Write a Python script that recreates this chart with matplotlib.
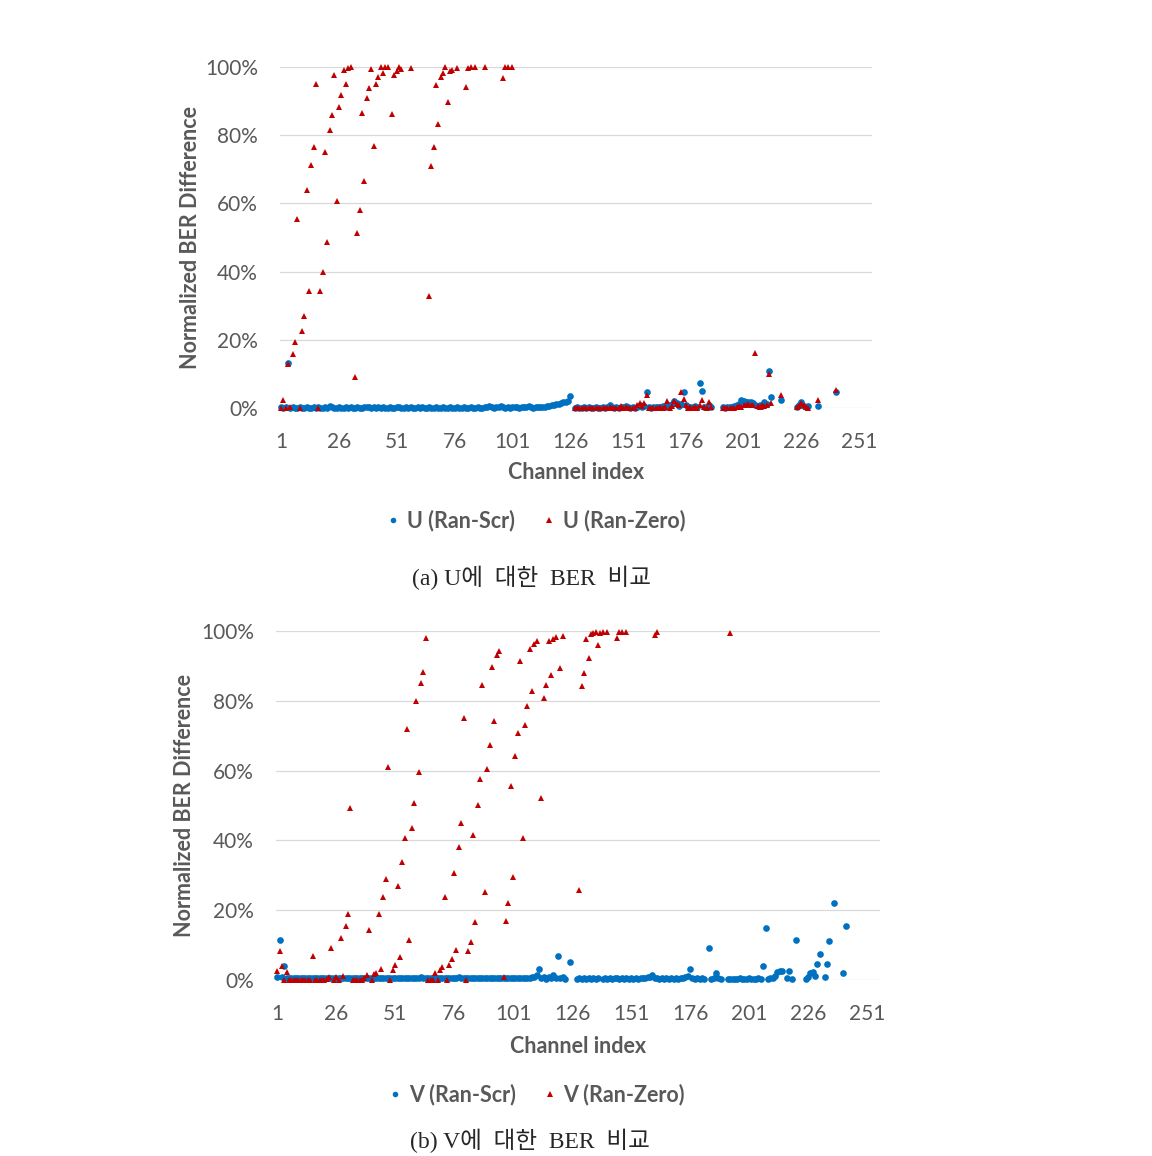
import numpy as np
import matplotlib
matplotlib.use('Agg')
import matplotlib.pyplot as plt
from matplotlib.lines import Line2D
from matplotlib.ticker import FuncFormatter

N = None
channels = list(range(1, 256))
x_ticks = [1, 26, 51, 76, 101, 126, 151, 176, 201, 226, 251]
y_ticks = [0, 20, 40, 60, 80, 100]

# ---- (a) U ----
u_scr = [
    0.2, 0.1, 0.2, 13.2, 0.1, 0.2, 0.1, 0.1, 0.2, 0.1, 0.1, 0.2, 0.1, 0.1, 0.2,
    0.1, 0.2, 0.1, 0.1, 0.2, 0.1, 0.5, 0.2, 0.1, 0.1, 0.2, 0.1, 0.1, 0.2, 0.1,
    0.2, 0.1, 0.1, 0.2, 0.1, 0.1, 0.3, 0.4, 0.2, 0.1, 0.2, 0.1, 0.4, 0.1, 0.2,
    0.1, 0.1, 0.2, 0.1, 0.1, 0.2, 0.3, 0.1, 0.1, 0.2, 0.1, 0.2, 0.1, 0.1, 0.2,
    0.1, 0.2, 0.1, 0.1, 0.2, 0.1, 0.1, 0.2, 0.1, 0.1, 0.2, 0.1, 0.1, 0.2, 0.1,
    0.1, 0.2, 0.1, 0.1, 0.2, 0.1, 0.1, 0.2, 0.1, 0.1, 0.2, 0.1, 0.1, 0.2, 0.3,
    0.5, 0.2, 0.1, 0.2, 0.3, 0.7, 0.2, 0.1, 0.2, 0.1, 0.2, 0.3, 0.2, 0.1, 0.2,
    0.3, 0.2, 0.6, 0.2, 0.1, 0.3, 0.2, 0.2, 0.3, 0.4, 0.5, 0.6, 0.8, 1.0, 1.1,
    1.3, 1.5, 1.8, 1.9, 2.1, 3.4, N, 0.1, 0.2, 0.1, 0.1, 0.2, 0.1, 0.2, 0.1,
    0.1, 0.2, 0.1, 0.1, 0.2, 0.1, 0.2, 0.8, 0.2, 0.1, 0.2, 0.1, 0.3, 0.2, 0.5,
    0.2, 0.1, 0.2, 0.1, 0.3, 1.0, 0.4, 0.6, 4.7, 0.2, 0.1, 0.2, 0.3, 0.2, 0.3,
    0.5, 0.3, 0.6, 0.8, 1.2, 2.0, 1.5, 0.6, 1.1, 4.6, 1.0, 0.4, 0.3, 0.2, 0.5,
    0.4, 7.2, 5.1, 0.3, 0.2, 0.8, 0.2, N, N, N, N, 0.2, 0.1, 0.2, 0.3,
    0.2, 0.5, 0.8, 1.2, 2.2, 2.0, 1.9, 1.9, 1.8, 1.6, 1.0, 0.5, 0.8, 0.5, 1.8,
    1.2, 10.9, 3.1, N, N, N, 2.3, N, N, N, N, N, N, 0.3, 1.0,
    1.8, 0.5, 0.2, 0.5, N, N, N, 0.7, N, N, N, N, N, N, N,
    4.6, N, N, N, N, N, N, N, N, N, N, N, N, N, N,
]
u_zero = [
    0.1, 2.2, 0.1, 13.0, 0.4, 15.8, 19.5, 55.5, 0.1, 22.5, 27.0, 64.0, 34.2, 71.2, 76.6,
    95.1, 0.1, 34.2, 40.0, 75.2, 48.6, 81.4, 86.0, 97.8, 60.7, 88.4, 91.7, 99.0, 95.1, 99.7,
    99.9, N, 9.2, 51.4, 58.0, 86.6, 66.7, 91.0, 93.7, 99.3, 76.9, 95.0, 97.0, 99.9, 98.3,
    99.9, 99.9, N, 86.1, 97.8, 98.7, 99.9, 99.3, N, N, N, 99.6, N, N, N,
    N, N, N, N, 32.8, 70.9, 76.4, 94.8, 83.4, 97.2, 98.2, 99.9, 89.6, 98.7, 99.1,
    N, 99.6, N, N, N, 94.2, 99.6, 99.9, N, 99.9, N, N, N, 99.9, N,
    N, N, N, N, N, N, 96.9, 99.9, 99.9, N, 99.9, N, N, N, N,
    N, N, N, N, N, N, N, N, N, N, N, N, N, N, N,
    N, N, N, N, N, N, N, 0.1, 0.0, 0.1, 0.1, 0.0, 0.1, 0.1, 0.0,
    0.1, 0.0, 0.1, 0.1, 0.0, 0.1, 0.0, 0.2, 0.1, 0.0, 0.1, 0.1, 0.5, 0.1, 0.3,
    0.1, 0.0, 0.1, 0.1, 0.8, 1.6, 0.5, 1.6, 3.8, 0.1, 0.0, 0.1, 0.1, 0.0, 0.4,
    0.1, 0.2, 2.0, 0.1, 0.6, 2.0, 1.2, 0.9, 4.8, 2.6, 0.8, 0.1, 0.2, 0.1, 0.3,
    0.1, 1.0, 2.3, 0.2, 0.0, 1.8, 0.3, N, N, N, N, 0.1, 0.0, 0.1, 0.1,
    0.0, 0.1, 0.2, 0.5, 0.3, 0.8, 1.0, 1.2, 0.8, 1.0, 16.2, 0.6, 0.3, 0.8, 0.5,
    0.9, 9.9, 1.5, N, N, N, 3.8, N, N, N, N, N, N, 0.2, 0.5,
    1.5, 0.8, 0.3, 0.0, N, N, N, 2.3, N, N, N, N, N, N, N,
    5.2, N, N, N, N, N, N, N, N, N, N, N, N, N, N,
]

# ---- (b) V ----
v_scr = [
    1.0, 11.5, 0.8, 3.9, 0.6, 0.5, 0.7, 0.6, 0.5, 0.6, 0.7, 0.5, 0.6, 0.6, 0.5,
    0.7, 0.6, 0.5, 0.6, 0.6, 0.7, 0.5, 0.6, 0.5, 0.6, 0.7, 0.6, 0.5, 0.6, 0.6,
    0.5, 0.6, 0.7, 0.6, 0.5, 0.6, 0.6, 0.5, 0.7, 0.6, 0.5, 0.6, 0.6, 0.5, 0.6,
    0.7, 0.6, 0.5, 0.6, 0.6, 0.5, 0.7, 0.6, 0.5, 0.6, 0.6, 0.5, 0.7, 0.6, 0.5,
    0.6, 0.9, 0.6, 0.5, 0.6, 0.7, 0.6, 0.5, 0.6, 0.6, 0.5, 0.7, 0.6, 0.5, 0.6,
    0.6, 0.5, 0.8, 0.6, 0.5, 0.6, 0.6, 0.5, 0.7, 0.6, 0.5, 0.6, 0.6, 0.5, 0.7,
    0.6, 0.5, 0.6, 0.6, 0.5, 0.7, 0.6, 0.5, 0.6, 0.6, 0.5, 0.7, 0.6, 0.5, 0.6,
    0.6, 0.5, 0.7, 0.8, 0.9, 1.3, 3.2, 0.5, 0.8, 0.4, 1.0, 0.6, 1.3, 0.5, 6.9,
    0.6, 0.9, 0.4, N, 5.2, N, N, 0.4, 0.5, 0.4, 0.5, 0.4, 0.5, 0.4, 0.5,
    0.4, 0.5, N, 0.4, 0.5, 0.4, 0.5, 0.4, 0.5, 0.6, 0.4, 0.5, 0.4, 0.5, 0.4,
    0.5, 0.4, 0.5, 0.4, 0.5, 0.6, 0.5, 0.8, 1.0, 1.5, 0.7, 0.5, 0.4, 0.5, 0.4,
    0.5, 0.4, 0.5, 0.4, 0.5, 0.4, 0.5, 0.6, 0.8, 1.1, 3.2, 0.6, 0.4, 0.5, 0.4,
    0.5, 0.4, N, 9.3, 0.4, 0.5, 2.1, 0.5, 0.3, N, N, 0.4, 0.4, 0.4, 0.4,
    0.4, 0.5, 0.4, 0.4, 0.4, 0.5, 0.4, 0.4, 0.4, 0.5, 0.4, 3.9, 14.9, 0.4, 0.5,
    0.6, 1.1, 2.3, 2.6, 2.6, N, 0.7, 2.5, 0.4, N, 11.5, N, N, N, 0.2,
    0.9, 1.9, 2.3, 1.1, 4.7, 7.5, N, 1.0, 4.5, 11.1, N, 22.1, N, N, N,
    1.9, 15.4, N, N, N, N, N, N, N, N, N, N, N, N, N,
]
v_zero = [
    2.5, 8.3, 4.0, 0.1, 2.3, 0.1, 0.0, 0.1, 0.1, 0.0, 0.1, 0.1, 0.0, 0.1, 0.1,
    7.0, 0.0, 0.1, 0.1, 0.0, 0.1, 0.3, 1.0, 9.3, 0.1, 1.0, 0.1, 12.1, 1.2, 15.6,
    19.0, 49.2, 0.1, 0.0, 0.1, 0.1, 0.0, 0.5, 1.3, 14.2, 0.1, 1.6, 2.1, 19.0, 3.2,
    23.9, 29.0, 60.9, 0.0, 3.0, 4.2, 26.9, 6.7, 33.9, 40.6, 71.9, 11.4, 43.5, 50.8, 80.0,
    59.5, 85.1, 88.3, 98.1, 0.1, 0.0, 0.1, 2.1, 0.1, 3.0, 3.6, 23.7, 0.0, 4.2, 5.9,
    30.7, 8.7, 38.1, 45.1, 75.1, 0.0, 8.3, 11.0, 41.6, 16.7, 50.2, 57.5, 84.4, 25.1, 60.5,
    67.2, 89.8, 74.3, 93.0, 94.4, N, 1.0, 16.8, 22.0, 55.7, 29.5, 64.2, 70.7, 91.4, 40.6,
    73.0, 78.5, 94.8, 82.7, 96.4, 97.0, N, 52.2, 80.7, 84.4, 97.0, 87.3, 97.7, 98.3, N,
    89.4, 98.6, N, N, N, N, N, N, 25.7, 84.1, 88.1, 97.7, 92.4, 99.0, 99.4,
    99.8, 95.9, 99.4, 99.6, N, 99.8, N, N, N, 97.9, 99.6, 99.8, N, 99.8, N,
    N, N, N, N, N, N, N, N, N, N, 98.9, 99.8, N, N, N,
    N, N, N, N, N, N, N, N, N, N, N, N, N, N, N,
    N, N, N, N, N, N, N, N, N, N, N, N, 99.4, N, N,
    N, N, N, N, N, N, N, N, N, N, N, N, N, N, N,
    N, N, N, N, N, N, N, N, N, N, N, N, N, N, N,
    N, N, N, N, N, N, N, N, N, N, N, N, N, N, N,
    N, N, N, N, N, N, N, N, N, N, N, N, N, N, N,
]

for arr in (u_scr, u_zero, v_scr, v_zero):
    assert len(arr) == len(channels), len(arr)

legend_a = ['U (Ran-Scr)', 'U (Ran-Zero)']
legend_b = ['V (Ran-Scr)', 'V (Ran-Zero)']
captions = ['(a) U에  대한  BER  비교', '(b) V에  대한  BER  비교']

BLUE = '#0070C0'
RED = '#C00000'
GRAY = '#595959'
GRID = '#D9D9D9'

plt.rcParams['font.family'] = ['Lato', 'DejaVu Sans']

W, H = 1152, 1156
fig = plt.figure(figsize=(W / 100, H / 100), dpi=100)


def px(l, t, r, b):
    return [l / W, 1 - b / H, (r - l) / W, (b - t) / H]


def draw(ax, scr, zero, names, leg_xy, caption, cap_xy, ylab_x):
    x = np.array(channels)
    ax.plot(x, np.array(scr, dtype=float), ls='none', marker='o', ms=4.8, mew=0,
            color=BLUE, clip_on=False, zorder=3)
    ax.plot(x, np.array(zero, dtype=float), ls='none', marker='^', ms=5.0, mew=0,
            color=RED, clip_on=False, zorder=4)
    ax.set_xlim(0.5, 256.5)
    ax.set_ylim(0, 100)
    ax.set_xticks(x_ticks)
    ax.set_yticks(y_ticks)
    ax.yaxis.set_major_formatter(FuncFormatter(lambda v, p: f'{v:.0f}%'))
    ax.grid(axis='y', color=GRID, lw=0.9)
    ax.set_axisbelow(True)
    for s in ax.spines.values():
        s.set_visible(False)
    ax.tick_params(axis='both', length=0, labelsize=15, labelcolor=GRAY)
    ax.tick_params(axis='x', pad=17)
    ax.tick_params(axis='y', pad=16)
    ax.set_xlabel('Channel index', fontsize=15.5, fontweight='bold', color=GRAY, va='center')
    ax.xaxis.set_label_coords(0.5, -0.19)
    ax.set_ylabel('Normalized BER Difference', fontsize=15.5, fontweight='bold',
                  color=GRAY, va='center')
    ax.yaxis.set_label_coords(ylab_x, 0.5)

    handles = [Line2D([], [], ls='none', marker='o', ms=4, mew=0, color=BLUE),
               Line2D([], [], ls='none', marker='^', ms=4, mew=0, color=RED)]
    leg = fig.legend(handles, names, loc='center',
                     bbox_to_anchor=(leg_xy[0] / W, 1 - leg_xy[1] / H),
                     ncol=2, frameon=False, handlelength=0.6, handletextpad=0.35,
                     columnspacing=1.25,
                     prop={'family': 'Lato', 'weight': 'bold', 'size': 15.5})
    for t in leg.get_texts():
        t.set_color(GRAY)

    fig.text(cap_xy[0] / W, 1 - cap_xy[1] / H, caption, ha='center', va='center',
             fontsize=17, color='#262626',
             family=['Liberation Serif', 'Noto Sans CJK KR'])


ax1 = fig.add_axes(px(280, 67, 872, 408))
ax2 = fig.add_axes(px(276, 631, 880, 980))

draw(ax1, u_scr, u_zero, legend_a, (536, 521), captions[0], (532, 578), -0.152)
draw(ax2, v_scr, v_zero, legend_b, (537, 1095), captions[1], (530, 1141), -0.151)

fig.savefig('out.png', dpi=100)
